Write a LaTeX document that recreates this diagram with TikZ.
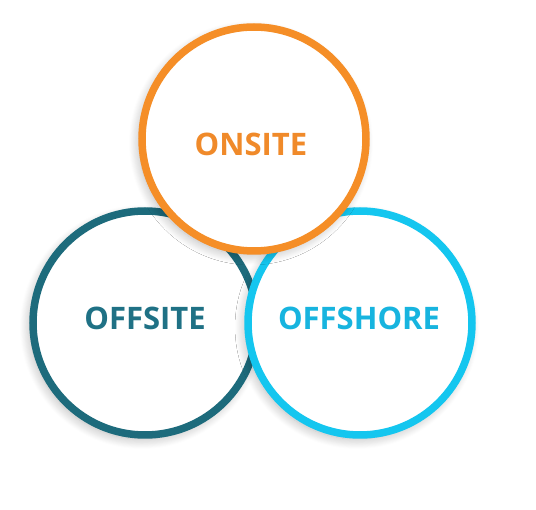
\documentclass[tikz,border=0pt]{standalone}
\usepackage{fontspec}
\setmainfont{Open Sans}
\usetikzlibrary{shadows.blur}
\definecolor{onsiteC}{HTML}{F58E27}
\definecolor{onsiteT}{HTML}{F08A2A}
\definecolor{offsiteC}{HTML}{1D6B7C}
\definecolor{offsiteT}{HTML}{1F7185}
\definecolor{offshoreC}{HTML}{14C6EF}
\definecolor{offshoreT}{HTML}{17B4DF}
\tikzset{
  ring/.style={circle, minimum size=224pt, inner sep=0pt, line width=7.5pt, fill=white,
    blur shadow={shadow xshift=-3pt, shadow yshift=-4pt, shadow blur radius=10pt, shadow blur steps=12, shadow opacity=30}},
  lbl/.style={font=\fontsize{31}{31}\selectfont\bfseries, inner sep=0pt}
}
\begin{document}
\begin{tikzpicture}[x=1pt,y=-1pt]
\useasboundingbox (0,0) rectangle (536,510);
\node[ring, draw=offsiteC] (offsite) at (145,323) {};
\node[ring, draw=offshoreC] (offshore) at (360,323) {};
\node[ring, draw=onsiteC] (onsite) at (254,139) {};
\node[lbl, text=onsiteT] (tonsite) at (251,144.5) {ONSITE};
\node[lbl, text=offsiteT] (toffsite) at (145,318.5) {OFFSITE};
\node[lbl, text=offshoreT] (toffshore) at (359,318.5) {OFFSHORE};
\end{tikzpicture}
\end{document}
